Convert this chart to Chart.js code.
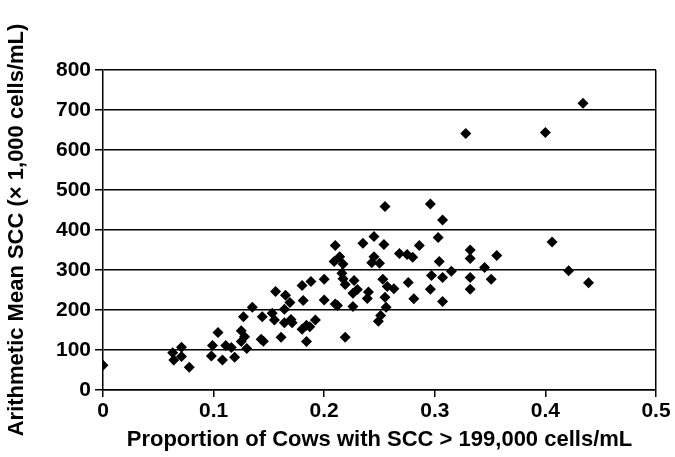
<!DOCTYPE html>
<html>
<head>
<meta charset="utf-8">
<script src="https://cdn.jsdelivr.net/npm/chart.js@4"></script>
<style>
  html, body { margin: 0; padding: 0; background: #fff; }
  #wrap { width: 675px; height: 457px; }
</style>
</head>
<body>
<div id="wrap"><canvas id="scc"></canvas></div>
<script>
// proportion of cows with SCC > 199,000 (x) and arithmetic mean SCC x1000 (y)
var proportion = [
  0.000, 0.063, 0.064, 0.071, 0.071, 0.078, 0.098, 0.099, 0.104, 0.108,
  0.111, 0.116, 0.119, 0.125, 0.125, 0.127, 0.128, 0.130, 0.135, 0.143,
  0.145, 0.144, 0.153, 0.155, 0.156, 0.161, 0.164, 0.164, 0.171, 0.165,
  0.169, 0.170, 0.180, 0.188, 0.181, 0.180, 0.184, 0.187, 0.192, 0.184,
  0.200, 0.200, 0.210, 0.212, 0.210, 0.214, 0.209, 0.217, 0.216, 0.217,
  0.219, 0.219, 0.227, 0.226, 0.226, 0.230, 0.240, 0.239, 0.235, 0.245,
  0.245, 0.243, 0.250, 0.254, 0.255, 0.253, 0.257, 0.263, 0.255, 0.256,
  0.251, 0.249, 0.268, 0.275, 0.280, 0.276, 0.281, 0.286, 0.296, 0.307,
  0.303, 0.304, 0.297, 0.296, 0.307, 0.307, 0.315, 0.328, 0.332, 0.332,
  0.332, 0.332, 0.345, 0.351, 0.356, 0.400, 0.406, 0.421, 0.434, 0.439
];
var meanSCC = [
  62, 93, 75, 107, 84, 57, 85, 111, 144, 75,
  111, 106, 82, 148, 121, 183, 133, 104, 207, 127,
  122, 183, 192, 175, 246, 132, 202, 168, 168, 237,
  219, 176, 261, 271, 224, 152, 162, 158, 175, 121,
  277, 225, 215, 211, 361, 333, 321, 315, 292, 278,
  264, 132, 274, 242, 209, 251, 245, 229, 367, 384,
  333, 318, 317, 364, 459, 277, 259, 253, 232, 207,
  186, 172, 341, 339, 332, 269, 228, 361, 465, 425,
  381, 321, 286, 252, 281, 221, 297, 641, 350, 329,
  281, 252, 306, 277, 336, 644, 370, 298, 717, 268
];
var xTicks = [0, 0.1, 0.2, 0.3, 0.4, 0.5];
var yTicks = [0, 100, 200, 300, 400, 500, 600, 700, 800];

var points = proportion.map(function (p, i) {
  return { x: p, y: meanSCC[i] };
});

var tickFont = { family: "'Liberation Sans', Arial, sans-serif", size: 21, weight: "bold" };
var titleFont = { family: "'Liberation Sans', Arial, sans-serif", size: 22, weight: "bold" };

var ctx = document.getElementById("scc").getContext("2d");

var data = {
  datasets: [
    {
      data: points,
      pointStyle: "rectRot",
      pointRadius: 5.5,
      pointHoverRadius: 5.5,
      backgroundColor: "#000",
      borderColor: "#000",
      borderWidth: 0,
    },
  ],
};

var options = {
  responsive: true,
  maintainAspectRatio: false,
  animation: false,
  layout: { padding: { top: 70, right: 19, left: 0, bottom: 0 } },
  plugins: { legend: { display: false }, tooltip: { enabled: false } },
  scales: {
    x: {
      type: "linear",
      min: xTicks[0],
      max: xTicks[xTicks.length - 1],
      afterBuildTicks: function (scale) {
        scale.ticks = xTicks.map(function (v) { return { value: v }; });
      },
      afterFit: function (scale) { scale.height = 67; },
      ticks: {
        color: "#000",
        font: tickFont,
        padding: 2,
        maxRotation: 0,
        callback: function (v) { return String(Number(v.toFixed(1))); },
      },
      grid: {
        color: function (c) { return c.tick && c.tick.value === 0.5 ? "#000" : "rgba(0,0,0,0)"; },
        tickColor: "#000",
        lineWidth: 1.5,
        tickLength: 7,
      },
      border: { display: true, color: "#000", width: 1.5 },
      title: {
        display: true,
        text: "Proportion of Cows with SCC > 199,000 cells/mL",
        color: "#000",
        font: titleFont,
        padding: { top: 0, bottom: 4 },
      },
    },
    y: {
      min: yTicks[0],
      max: yTicks[yTicks.length - 1],
      afterBuildTicks: function (scale) {
        scale.ticks = yTicks.map(function (v) { return { value: v }; });
      },
      afterFit: function (scale) { scale.width = 103; },
      ticks: { color: "#000", font: tickFont, padding: 4 },
      grid: { color: "#000", lineWidth: 1.5, tickLength: 8 },
      border: { display: true, color: "#000", width: 1.5 },
      title: {
        display: true,
        text: "Arithmetic Mean SCC (\u00d7 1,000 cells/mL)",
        color: "#000",
        font: titleFont,
        padding: { top: 4, bottom: 0 },
      },
    },
  },
};

var sccChart = new Chart(ctx, {
  type: "scatter",
  data: data,
  options: options,
});
</script>
</body>
</html>
